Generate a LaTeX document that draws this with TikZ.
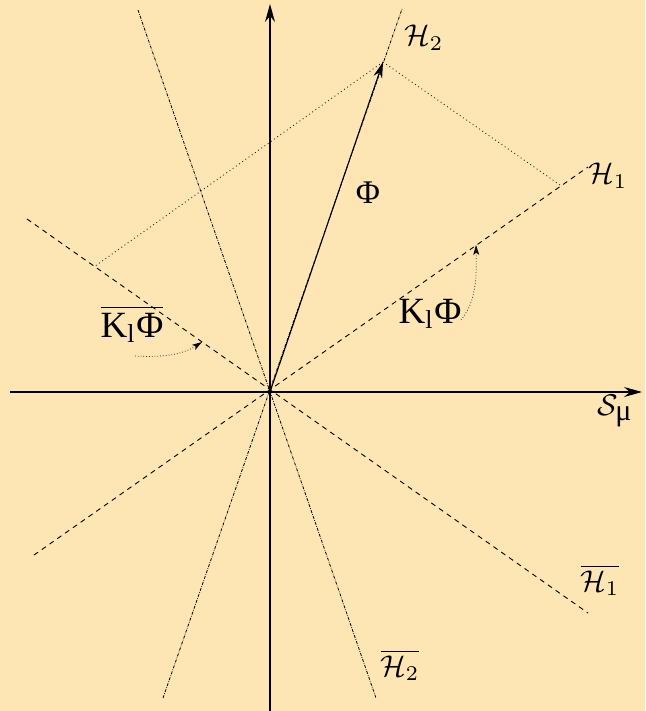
\documentclass[tikz,border=0pt]{standalone}
\usepackage{fontspec}
\setmainfont{Liberation Serif}
\usetikzlibrary{arrows.meta,calc}
\definecolor{bg}{RGB}{253,229,180}
\begin{document}
\begin{tikzpicture}[x=1pt,y=-1pt,
  axis/.style={line width=1.1pt,draw=black,-{Stealth[length=18pt,width=10pt,inset=6pt]}},
  hline/.style={line width=0.9pt,dash pattern=on 5pt off 4.5pt},
  hhline/.style={line width=0.8pt,dash pattern=on 3pt off 1.3pt on 0.7pt off 1.3pt},
  proj/.style={line width=0.9pt,dash pattern=on 0.9pt off 3pt,draw=black!85},
  phiarrow/.style={line width=1.1pt,-{Stealth[length=16pt,width=9pt,inset=5pt]}},
  curv/.style={line width=0.8pt,dash pattern=on 0.8pt off 2pt,draw=black!80,-{Stealth[length=10pt,width=6pt,inset=2.5pt,color=black]}},
  hlab/.style={inner sep=0pt,scale=3},
  klab/.style={inner sep=0pt,scale=3.7},
  plab/.style={inner sep=0pt,scale=3.3}]
\fill[bg] (0,0) rectangle (645,711);
\useasboundingbox (0,0) rectangle (645,711);
\coordinate (O) at (270,392);
\coordinate (xl) at (10,392);
\coordinate (xr) at (642,392);
\coordinate (yb) at (270,711);
\coordinate (yt) at (270,4);
\coordinate (h1a) at (34,555);
\coordinate (h1b) at (588,167);
\coordinate (h1ba) at (27,219);
\coordinate (h1bb) at (588,613);
\coordinate (h2a) at (163,698);
\coordinate (h2b) at (402,9);
\coordinate (h2ba) at (138,10);
\coordinate (h2bb) at (376,698);
\coordinate (P) at (383,62);
% parallelogram points
\coordinate (Pv) at ($(P)+(318,221)$);
\coordinate (Pu) at ($(P)+(-316,224)$);
\coordinate (A) at (intersection of P--Pv and O--h1b);
\coordinate (B) at (intersection of P--Pu and O--h1ba);
% axes
\draw[axis] (xl) -- (xr);
\draw[axis] (yb) -- (yt);
% lines
\draw[hline] (h1a) -- (h1b);
\draw[hline] (h1ba) -- (h1bb);
\draw[hhline] (h2a) -- (h2b);
\draw[hhline] (h2ba) -- (h2bb);
% projections
\draw[proj] (P) -- (A);
\draw[proj] (P) -- (B);
% Phi
\draw[phiarrow] (O) -- (P);
% labels
\node[hlab] (H2) at (424,38) {$\mathcal{H}_2$};
\node[hlab] (H1) at (608,176) {$\mathcal{H}_1$};
\node[hlab] (H1b) at (600,580) {$\overline{\mathcal{H}_1}$};
\node[hlab] (H2b) at (400,665) {$\overline{\mathcal{H}_2}$};
\node[hlab] (S) at (615,411) {$\mathcal{S}_{\hbox{μ}}$};
\node[plab] (Phi) at (368,193) {Φ};
\node[klab] (K) at (430,314) {K\textsubscript{l}Φ};
\node[klab] (Kb) at (132,324) {$\overline{\hbox{K\textsubscript{l}Φ}}$};
% curved arrows
\coordinate (ks) at (461,320);
\coordinate (ke) at (476,245);
\coordinate (kbs) at (135,356);
\coordinate (kbe) at (202,342);
\draw[curv] (ks) .. controls (474,304) and (477,285) .. (ke);
\draw[curv] (kbs) .. controls (168,358) and (185,353) .. (kbe);
\end{tikzpicture}
\end{document}
